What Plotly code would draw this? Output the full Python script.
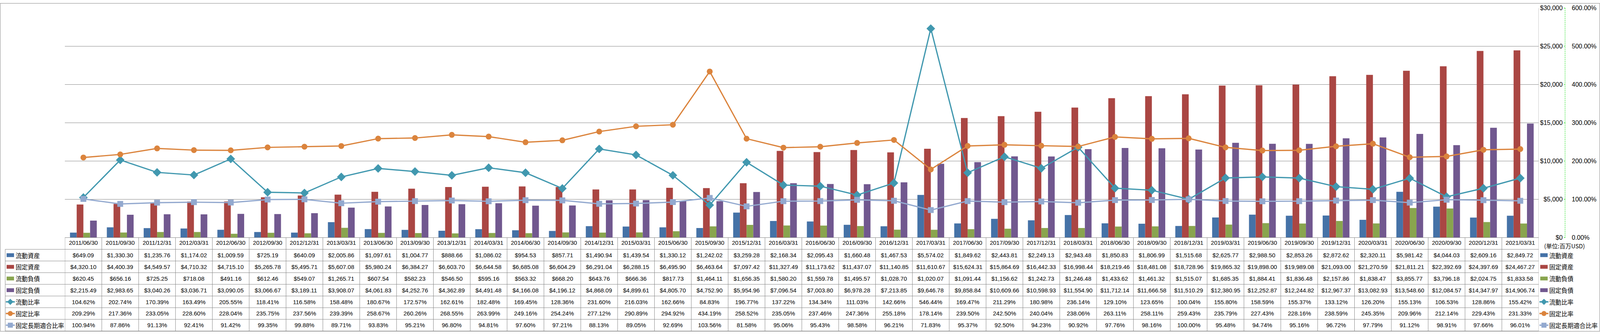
import plotly.graph_objects as go

# ---------------- data ----------------
categories = [
    "2011/06/30", "2011/09/30", "2011/12/31", "2012/03/31", "2012/06/30", "2012/09/30",
    "2012/12/31", "2013/03/31", "2013/06/30", "2013/09/30", "2013/12/31", "2014/03/31",
    "2014/06/30", "2014/09/30", "2014/12/31", "2015/03/31", "2015/06/30", "2015/09/30",
    "2015/12/31", "2016/03/31", "2016/06/30", "2016/09/30", "2016/12/31", "2017/03/31",
    "2017/06/30", "2017/09/30", "2017/12/31", "2018/03/31", "2018/06/30", "2018/09/30",
    "2018/12/31", "2019/03/31", "2019/06/30", "2019/09/30", "2019/12/31", "2020/03/31",
    "2020/06/30", "2020/09/30", "2020/12/31", "2021/03/31",
]

current_assets = [
    649.09, 1330.30, 1235.76, 1174.02, 1009.59, 725.19, 640.09, 2005.86, 1097.61, 1004.77,
    888.66, 1086.02, 954.53, 857.71, 1490.94, 1439.54, 1330.12, 1242.02, 3259.28, 2168.34,
    2095.43, 1660.48, 1467.53, 5574.02, 1849.62, 2443.81, 2249.13, 2943.48, 1850.83, 1806.99,
    1515.68, 2625.77, 2988.50, 2853.26, 2872.62, 2320.11, 5981.42, 4044.03, 2609.16, 2849.72,
]
fixed_assets = [
    4320.10, 4400.39, 4549.57, 4710.32, 4715.10, 5265.78, 5495.71, 5607.08, 5980.24, 6384.27,
    6603.70, 6644.58, 6685.08, 6604.29, 6291.04, 6288.15, 6495.90, 6463.64, 7097.42, 11327.49,
    11173.62, 11437.07, 11140.85, 11610.67, 15624.31, 15864.69, 16442.33, 16998.44, 18219.46, 18481.08,
    18728.96, 19865.32, 19898.00, 19989.08, 21093.00, 21270.59, 21811.21, 22392.69, 24397.69, 24467.27,
]
current_liabilities = [
    620.45, 656.16, 725.25, 718.08, 491.16, 612.46, 549.07, 1265.71, 607.54, 582.23,
    546.50, 595.16, 563.32, 668.20, 643.76, 666.36, 817.73, 1464.11, 1656.35, 1580.20,
    1559.78, 1495.57, 1028.70, 1020.07, 1091.44, 1156.62, 1242.73, 1246.48, 1433.62, 1461.32,
    1515.07, 1685.35, 1884.41, 1836.48, 2157.86, 1838.47, 3855.77, 3796.18, 2024.75, 1833.58,
]
fixed_liabilities = [
    2215.49, 2983.65, 3040.26, 3036.71, 3090.05, 3066.67, 3189.11, 3908.07, 4061.83, 4252.76,
    4362.89, 4491.48, 4166.08, 4196.12, 4868.09, 4899.61, 4805.70, 4752.90, 5954.96, 7096.54,
    7003.80, 6978.28, 7213.85, 9646.78, 9858.84, 10609.66, 10598.93, 11554.90, 11712.14, 11666.58,
    11510.29, 12380.95, 12252.87, 12244.82, 12967.37, 13082.93, 13548.60, 12084.57, 14347.97, 14906.74,
]
current_ratio = [
    104.62, 202.74, 170.39, 163.49, 205.55, 118.41, 116.58, 158.48, 180.67, 172.57,
    162.61, 182.48, 169.45, 128.36, 231.60, 216.03, 162.66, 84.83, 196.77, 137.22,
    134.34, 111.03, 142.66, 546.44, 169.47, 211.29, 180.98, 236.14, 129.10, 123.65,
    100.04, 155.80, 158.59, 155.37, 133.12, 126.20, 155.13, 106.53, 128.86, 155.42,
]
fixed_ratio = [
    209.29, 217.36, 233.05, 228.60, 228.04, 235.75, 237.56, 239.39, 258.67, 260.26,
    268.55, 263.99, 249.16, 254.24, 277.12, 290.89, 294.92, 434.19, 258.52, 235.05,
    237.46, 247.36, 255.18, 178.14, 239.50, 242.50, 240.04, 238.06, 263.11, 258.11,
    259.43, 235.79, 227.43, 228.16, 238.59, 245.35, 209.96, 212.14, 229.43, 231.33,
]
fixed_long_term_ratio = [
    100.94, 87.86, 91.13, 92.41, 91.42, 99.35, 99.88, 89.71, 93.83, 95.21,
    96.80, 94.81, 97.60, 97.21, 88.13, 89.05, 92.69, 103.56, 81.58, 95.06,
    95.43, 98.58, 96.21, 71.83, 95.37, 92.50, 94.23, 90.92, 97.76, 98.16,
    100.00, 95.48, 94.74, 95.16, 96.72, 97.79, 91.12, 98.91, 97.66, 96.01,
]

series_names = ["流動資産", "固定資産", "流動負債", "固定負債", "流動比率", "固定比率", "固定長期適合比率"]
unit_label = "(単位:百万USD)"

# ---------------- layout constants ----------------
# Geometry is measured in reference pixels (5221 x 858) and mapped to paper fractions.
W, H = 5221, 858
WC, HC = 4096, 858          # CSS size of the page the browser actually offers
PLOT_L, PLOT_R, PLOT_T, PLOT_B = 212, 5021, 13, 612.5
AXIS_X = 5107
ROW_TOP, ROW_H, N_ROWS = 643.3, 30.5, 7
TABLE_L = 17
TABLE_B = ROW_TOP + ROW_H * N_ROWS

GRID = "#868686"
GREEN = "#00DD00"
NUM_FONT = "'Liberation Sans', Arial, sans-serif"
CJK_FONT = "'Noto Sans CJK JP', 'Noto Sans CJK SC', sans-serif"
NUM_SIZE = 15
CJK_SIZE = 15.5

colors = ["#4572A7", "#AA4643", "#89A54E", "#71588F", "#4198AF", "#DB843D", "#93A9CF"]
symbols = [None, None, None, None, "diamond", "circle", "square"]


def px(x):
    return x / W


def py(y):
    return 1 - y / H


def dxc(css):          # CSS px -> paper fraction (x)
    return css / WC


def dyc(css):          # CSS px -> paper fraction (y)
    return css / HC


fig = go.Figure()

bar_data = [current_assets, fixed_assets, current_liabilities, fixed_liabilities]
for name, vals, col in zip(series_names[:4], bar_data, colors[:4]):
    fig.add_trace(go.Bar(
        x=categories, y=vals, name=name, marker=dict(color=col, line=dict(width=0)),
        yaxis="y", showlegend=False,
    ))

line_data = [current_ratio, fixed_ratio, fixed_long_term_ratio]
msizes = [17, 15, 15]
for name, vals, col, sym, ms in zip(series_names[4:], line_data, colors[4:], symbols[4:], msizes):
    fig.add_trace(go.Scatter(
        x=categories, y=vals, name=name, mode="lines+markers", yaxis="y2",
        line=dict(color=col, width=3.2),
        marker=dict(symbol=sym, size=ms, color=col, line=dict(width=0)),
        showlegend=False,
    ))

shapes = []
annotations = []

# outer chart border
shapes.append(dict(type="rect", xref="paper", yref="paper",
                   x0=dxc(0.5), x1=1 - dxc(0.5), y0=dyc(0.5), y1=1 - dyc(0.5),
                   line=dict(color=GRID, width=1)))
# right plot border continuing through the table
shapes.append(dict(type="line", xref="x", yref="paper", x0=len(categories) - 0.5, x1=len(categories) - 0.5,
                   y0=py(PLOT_T), y1=py(TABLE_B), line=dict(color=GRID, width=1)))
# green dashed axis line
shapes.append(dict(type="line", xref="paper", yref="paper", x0=px(AXIS_X), x1=px(AXIS_X),
                   y0=py(PLOT_T), y1=py(PLOT_B), line=dict(color=GREEN, width=1, dash="3px,2px")))

# table vertical separators
for i in range(len(categories)):
    shapes.append(dict(type="line", xref="x", yref="paper", x0=i - 0.5, x1=i - 0.5,
                       y0=py(PLOT_B), y1=py(TABLE_B), line=dict(color=GRID, width=1)))
# legend column left border
shapes.append(dict(type="line", xref="paper", yref="paper", x0=px(TABLE_L), x1=px(TABLE_L),
                   y0=py(ROW_TOP), y1=py(TABLE_B), line=dict(color=GRID, width=1)))
# table horizontal lines
for r in range(N_ROWS + 1):
    yy = ROW_TOP + r * ROW_H
    shapes.append(dict(type="line", xref="paper", yref="paper", x0=px(TABLE_L), x1=px(PLOT_R),
                       y0=py(yy), y1=py(yy), line=dict(color=GRID, width=1)))


def legend_key(x_left, yc, idx):
    """x_left in reference px; marker sizes in CSS px."""
    col = colors[idx]
    x0 = px(x_left)
    if idx < 4:
        shapes.append(dict(type="rect", xref="paper", yref="paper",
                           x0=x0 + dxc(2), x1=x0 + dxc(21), y0=py(yc) - dyc(5), y1=py(yc) + dyc(5),
                           fillcolor=col, line=dict(width=0)))
    else:
        shapes.append(dict(type="line", xref="paper", yref="paper",
                           x0=x0, x1=x0 + dxc(23), y0=py(yc), y1=py(yc),
                           line=dict(color=col, width=3.5)))
        cx, cy = x0 + dxc(11.5), py(yc)
        if symbols[idx] == "diamond":
            r = 8
            path = (f"M {cx - dxc(r)} {cy} L {cx} {cy + dyc(r)} L {cx + dxc(r)} {cy} "
                    f"L {cx} {cy - dyc(r)} Z")
            shapes.append(dict(type="path", xref="paper", yref="paper", path=path,
                               fillcolor=col, line=dict(width=0)))
        elif symbols[idx] == "circle":
            r = 6.5
            shapes.append(dict(type="circle", xref="paper", yref="paper",
                               x0=cx - dxc(r), x1=cx + dxc(r), y0=cy - dyc(r), y1=cy + dyc(r),
                               fillcolor=col, line=dict(width=0)))
        else:
            r = 6.5
            shapes.append(dict(type="rect", xref="paper", yref="paper",
                               x0=cx - dxc(r), x1=cx + dxc(r), y0=cy - dyc(r), y1=cy + dyc(r),
                               fillcolor=col, line=dict(width=0)))


all_rows = bar_data + line_data
for r in range(N_ROWS):
    yc = ROW_TOP + (r + 0.5) * ROW_H
    legend_key(TABLE_L + 2, yc, r)
    annotations.append(dict(text=series_names[r], xref="paper", yref="paper", x=px(48), y=py(yc),
                            xanchor="left", yanchor="middle", showarrow=False,
                            font=dict(family=CJK_FONT, size=CJK_SIZE, color="black")))
    legend_key(5023.5, yc, r)
    annotations.append(dict(text=series_names[r], xref="paper", yref="paper", x=px(5053), y=py(yc),
                            xanchor="left", yanchor="middle", showarrow=False,
                            font=dict(family=CJK_FONT, size=CJK_SIZE, color="black")))
    for i, cat in enumerate(categories):
        v = all_rows[r][i]
        txt = f"${v:,.2f}" if r < 4 else f"{v:.2f}%"
        annotations.append(dict(text=txt, xref="x", yref="paper", x=cat, y=py(yc),
                                xanchor="center", yanchor="middle", showarrow=False,
                                font=dict(family=NUM_FONT, size=NUM_SIZE, color="black")))

annotations.append(dict(text=unit_label, xref="paper", yref="paper", x=px(5036), y=py(634),
                        xanchor="left", yanchor="middle", showarrow=False,
                        font=dict(family=CJK_FONT, size=15, color="black")))

fig.update_layout(
    width=WC, height=HC,
    margin=dict(l=0, r=0, t=0, b=0),
    paper_bgcolor="white", plot_bgcolor="white",
    barmode="group", bargap=0.273, bargroupgap=0,
    showlegend=False,
    xaxis=dict(
        domain=[px(PLOT_L), px(PLOT_R)], type="category", range=[-0.5, len(categories) - 0.5],
        showline=True, linecolor=GRID, linewidth=1, ticks="", showgrid=False,
        tickfont=dict(family=NUM_FONT, size=NUM_SIZE, color="black"), tickangle=0,
    ),
    yaxis=dict(
        domain=[py(PLOT_B), py(PLOT_T)], range=[0, 30000], dtick=5000,
        tickprefix="$", tickformat=",", showgrid=True, gridcolor=GRID, gridwidth=1,
        zeroline=False, anchor="free", position=px(AXIS_X), side="left",
        ticks="outside", ticklen=3, tickcolor=GREEN, showline=False,
        tickfont=dict(family=NUM_FONT, size=NUM_SIZE + 1, color="black"),
    ),
    yaxis2=dict(
        overlaying="y", range=[0, 600], dtick=100, ticksuffix="%", tickformat=".2f",
        showgrid=False, zeroline=False, anchor="free", position=px(AXIS_X), side="right",
        ticks="outside", ticklen=13, tickcolor="rgba(0,0,0,0)", showline=False,
        tickfont=dict(family=NUM_FONT, size=NUM_SIZE + 1, color="black"),
    ),
    shapes=shapes,
    annotations=annotations,
)

post = """
document.body.style.margin = '0';
document.body.style.overflow = 'hidden';
var gd = document.getElementById('{plot_id}');
if (window.innerWidth && (Math.abs(window.innerWidth - gd.layout.width) > 2 ||
                          Math.abs(window.innerHeight - gd.layout.height) > 2)) {
    Plotly.relayout(gd, {width: window.innerWidth, height: window.innerHeight});
}
"""

fig.write_html("out.html", post_script=post, config={"displayModeBar": False})
